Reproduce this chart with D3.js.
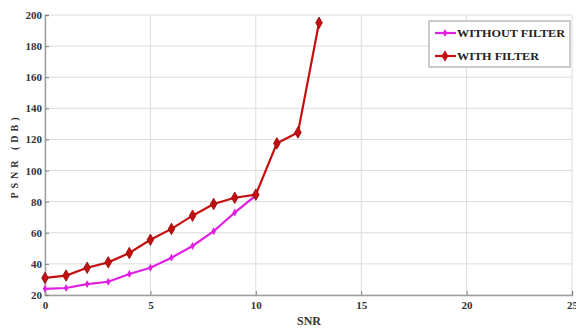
<!DOCTYPE html>
<html><head><meta charset="utf-8">
<script src="https://cdn.jsdelivr.net/npm/d3@7"></script>
<style>body{margin:0;background:#fff}svg{display:block}</style>
</head><body>
<svg id="c" width="576" height="331"></svg>
<script>
const snrWithout = [0,1,2,3,4,5,6,7,8,9,10];
const psnrWithout = [24,24.5,27,28.5,33.5,37.5,44,51.5,61,73,84];
const snrWith = [0,1,2,3,4,5,6,7,8,9,10,11,12,13];
const psnrWith = [31,32.5,37.5,41,47,55.5,62.5,71,78.5,82.5,84.5,117.5,124.5,195];
const xTicks = [0,5,10,15,20,25];
const yTicks = [20,40,60,80,100,120,140,160,180,200];
const seriesNames = ["WITHOUT FILTER","WITH FILTER"];
const colors = ["#e020e0","#c41010"];

const FONT = "Liberation Serif";
const svg = d3.select("#c");
const m = {l:45, r:4, t:15, b:36};
const W = 576, H = 331;
const x = d3.scaleLinear().domain([0,25]).range([m.l, W-m.r]);
const y = d3.scaleLinear().domain([20,200]).range([H-m.b, m.t]);

// grid
svg.append("g").selectAll("line").data(yTicks).join("line")
  .attr("x1", m.l).attr("x2", W-m.r).attr("y1", d=>y(d)).attr("y2", d=>y(d))
  .attr("stroke", "#dcdcdc").attr("stroke-width", 1);
svg.append("g").selectAll("line").data(xTicks).join("line")
  .attr("y1", m.t).attr("y2", H-m.b).attr("x1", d=>x(d)).attr("x2", d=>x(d))
  .attr("stroke", "#dcdcdc").attr("stroke-width", 1);

// axes
const xAxis = svg.append("g").attr("transform", `translate(0,${H-m.b})`)
  .call(d3.axisBottom(x).tickValues(xTicks).tickSize(-4).tickPadding(6).tickFormat(d3.format("d")));
const yAxis = svg.append("g").attr("transform", `translate(${m.l},0)`)
  .call(d3.axisLeft(y).tickValues(yTicks).tickSize(-4).tickPadding(3).tickFormat(d3.format("d")));
[xAxis, yAxis].forEach(g => {
  g.attr("font-family", FONT);
  g.select(".domain").attr("stroke", "#a0a0a0").attr("stroke-width", 1.5);
  g.selectAll(".tick line").attr("stroke", "#808080");
  g.selectAll("text").attr("font-family", FONT).attr("font-size", 11).attr("fill", "#333").attr("font-weight","bold");
});

// lines
const lineGen = d3.line().x(d=>x(d[0])).y(d=>y(d[1]));
const dWithout = snrWithout.map((s,i)=>[s, psnrWithout[i]]);
const dWith = snrWith.map((s,i)=>[s, psnrWith[i]]);

svg.append("path").datum(dWithout).attr("d", lineGen)
  .attr("fill","none").attr("stroke", colors[0]).attr("stroke-width", 2.2);
svg.append("g").selectAll("path").data(dWithout).join("path")
  .attr("transform", d=>`translate(${x(d[0])},${y(d[1])})`)
  .attr("d", d3.symbol(d3.symbolDiamond, 18)())
  .attr("fill", colors[0]);

svg.append("path").datum(dWith).attr("d", lineGen)
  .attr("fill","none").attr("stroke", colors[1]).attr("stroke-width", 2.2);
svg.append("g").selectAll("path").data(dWith).join("path")
  .attr("transform", d=>`translate(${x(d[0])},${y(d[1])})`)
  .attr("d", d3.symbol(d3.symbolDiamond, 38)())
  .attr("fill", colors[1]).attr("stroke", "#8a0a0a").attr("stroke-width", 0.8);

// labels
svg.append("text").attr("x", 309).attr("y", 325).attr("text-anchor","middle")
  .attr("font-family", FONT).attr("font-size", 12).attr("font-weight","bold").attr("fill","#333").text("SNR");
svg.append("text").attr("transform", `translate(18,156) rotate(-90)`).attr("text-anchor","middle")
  .attr("font-family", FONT).attr("font-size", 10).attr("font-weight","bold").attr("letter-spacing", 4)
  .attr("fill","#333").text("PSNR (DB)");

// legend
const lg = svg.append("g").attr("transform", "translate(429,21)");
lg.append("rect").attr("width", 141).attr("height", 46).attr("fill","#fff").attr("stroke","#999").attr("stroke-width",1);
const tl = [108, 82];
seriesNames.forEach((n,i) => {
  const yy = 12 + i*23;
  lg.append("line").attr("x1", 6).attr("x2", 27).attr("y1", yy).attr("y2", yy)
    .attr("stroke", colors[i]).attr("stroke-width", 2.2);
  lg.append("path").attr("transform", `translate(16,${yy})`)
    .attr("d", d3.symbol(d3.symbolDiamond, i===0?18:38)()).attr("fill", colors[i]);
  lg.append("text").attr("x", 28).attr("y", yy+4).attr("font-family", FONT).attr("font-size", 11)
    .attr("font-weight","bold").attr("textLength", tl[i]).attr("lengthAdjust","spacingAndGlyphs")
    .attr("fill","#222").text(n);
});
</script>
</body></html>
